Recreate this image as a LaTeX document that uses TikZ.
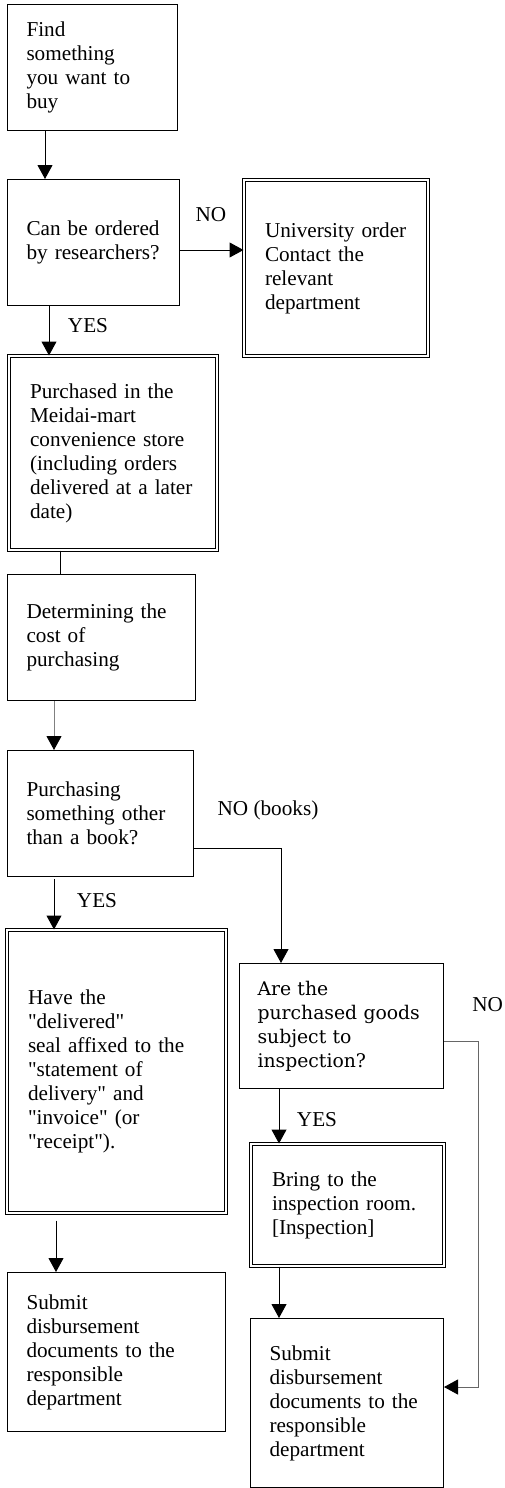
\documentclass[tikz,border=0pt]{standalone}
\usepackage{fontspec}
\setmainfont{Liberation Serif}
\newfontfamily\wideserif{DejaVu Serif}
\usetikzlibrary{arrows.meta,calc}

\newcommand{\qq}[1]{\textquotedbl#1\textquotedbl}

\tikzset{
    box/.style={draw, line width=0.5pt, anchor=north west, align=left,
        inner xsep=9.5pt, inner ysep=0pt,
        font=\fontsize{10.6}{12}\selectfont},
    dbox/.style={box, double, double distance=1pt, inner xsep=10.5pt},
    arr/.style={line width=0.5pt, -{Triangle[length=7pt,width=7.5pt,color=black]}},
    link/.style={line width=0.5pt},
    lbl/.style={inner sep=0pt, font=\fontsize{10.6}{12}\selectfont}
}

\begin{document}
\begin{tikzpicture}[x=0.5pt,y=-0.5pt]

\useasboundingbox (0,0) rectangle (504,1488);

\path (7,4) node[box, text width=66pt, minimum height=63pt] (find) {Find\\ something\\ you want to\\ buy};
\path (7,179) node[box, text width=67pt, minimum height=63pt] (order) {Can be ordered\\ by researchers?};
\path (243.5,179.5) node[dbox, text width=71pt, minimum height=88pt] (univ) {University order\\ Contact the\\ relevant\\ department};
\path (8.5,355.5) node[dbox, text width=83pt, minimum height=97pt] (meidai) {Purchased in the\\ Meidai-mart\\ convenience store\\ (including orders\\ delivered at a later\\ date)};
\path (7,574) node[box, text width=75pt, minimum height=63pt] (cost) {Determining the\\ cost of\\ purchasing};
\path (7,750) node[box, text width=74pt, minimum height=63pt] (book) {Purchasing\\ something other\\ than a book?};
\path (6.5,929.5) node[dbox, text width=88.5pt, minimum height=141.5pt] (seal) {Have the\\ \qq{delivered}\\ seal affixed to the\\ \textquotedbl statement of\\ delivery\textquotedbl{} and\\ \qq{invoice} (or\\ \qq{receipt}).};
\path (239,963) node[box, text width=84pt, minimum height=62.5pt, inner xsep=9pt, font=\wideserif\fontsize{9.4}{12}\selectfont] (inspq) {Are the\\ purchased goods\\ subject to\\ inspection?};
\path (250.5,1143.5) node[dbox, text width=75.5pt, minimum height=61pt] (bring) {Bring to the\\ inspection room.\\ {[}Inspection{]}};
\path (7,1272) node[box, text width=90pt, minimum height=79.5pt] (submitL) {Submit\\ disbursement\\ documents to the\\ responsible\\ department};
\path (250,1318) node[box, text width=77.5pt, minimum height=84.5pt] (submitR) {Submit\\ disbursement\\ documents to the\\ responsible\\ department};

\path (211,215) node[lbl] (no1) {NO};
\path (88,326) node[lbl] (yes1) {YES};
\path (268,810) node[lbl] (no2) {NO (books)};
\path (97,901) node[lbl] (yes2) {YES};
\path (472,1005) node[lbl, anchor=west] (no3) {NO};
\path (317,1120) node[lbl] (yes3) {YES};

\draw [arr] ($(find.south west)+(38,0)$) -- ($(order.north west)+(38,0)$);
\coordinate (noStart) at ($(order.north east)+(0,71)$);
\draw [arr] (noStart) -- (noStart -| univ.west);
\draw [arr] ($(order.south west)+(42,0)$) -- ($(meidai.north west)+(40.5,0)$);
\draw [link] ($(meidai.south west)+(51.5,0)$) -- ($(cost.north west)+(53,0)$);
\draw [arr, draw=black!50] ($(cost.south west)+(47,0)$) -- ($(book.north west)+(47,0)$);
\draw [arr] ($(book.north east)+(0,98)$) -| ($(inspq.north west)+(42,0)$);
\draw [arr] ($(book.south west)+(47,2)$) -- ($(seal.north west)+(47.5,0)$);
\draw [arr, draw=black!60] ($(inspq.north east)+(0,78)$) -- ++(34,0) |- ($(submitR.north east)+(0,69)$);
\draw [arr] ($(inspq.south west)+(40,0)$) -- ($(bring.north west)+(28.5,0)$);
\draw [arr] ($(bring.south west)+(28.5,0)$) -- ($(submitR.north west)+(29,0)$);
\draw [arr] ($(seal.south west)+(49.5,7)$) -- ($(submitL.north west)+(49,0)$);

\end{tikzpicture}
\end{document}
